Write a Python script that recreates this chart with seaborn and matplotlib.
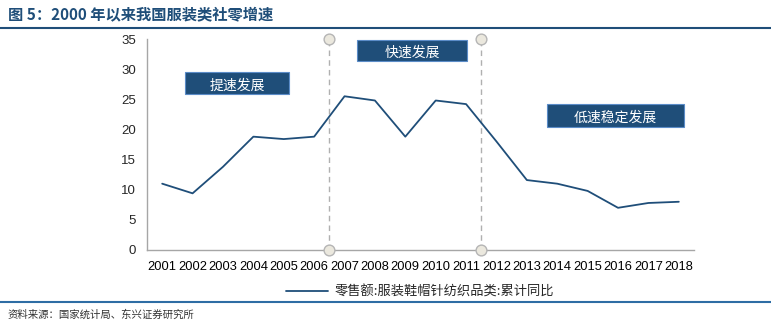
import matplotlib
matplotlib.use("Agg")
import matplotlib.pyplot as plt
import seaborn as sns
import pandas as pd
from matplotlib.patches import Rectangle
from matplotlib.lines import Line2D

years = [str(y) for y in range(2001, 2019)]
growth = [11.0, 9.4, 13.8, 18.8, 18.4, 18.8, 25.5, 24.8, 18.8, 24.8, 24.2, 18.0,
          11.6, 11.0, 9.8, 7.0, 7.8, 8.0]
yticks = [0, 5, 10, 15, 20, 25, 30, 35]
phase_labels = ["提速发展", "快速发展", "低速稳定发展"]
series_name = "零售额:服装鞋帽针纺织品类:累计同比"

sns.set_theme(style="white")
plt.rcParams['font.family'] = ['Noto Sans CJK SC', 'DejaVu Sans']

df = pd.DataFrame({"idx": range(len(years)), "year": years, "value": growth})

fig = plt.figure(figsize=(7.71, 3.21), dpi=100)
ax = fig.add_axes([147/771, 1-250/321, (694-147)/771, (250-39)/321])

navy = "#1F4E79"
sns.lineplot(data=df, x="idx", y="value", ax=ax, color=navy, lw=1.3,
             label=series_name, legend=False)

ax.set_xlim(-0.5, len(years)-0.5)
ax.set_ylim(0, 35)
ax.set_yticks(yticks)
ax.set_yticklabels([str(t) for t in yticks], fontsize=9.5, family=['Liberation Sans', 'DejaVu Sans'])
ax.set_xticks(range(len(years)))
ax.set_xticklabels(years, fontsize=9.3, family=['Liberation Sans', 'DejaVu Sans'])
ax.set_xticks([i - 0.5 for i in range(len(years)+1)], minor=True)
ax.tick_params(axis='x', which='major', length=0, pad=8, colors="#000000")
ax.tick_params(axis='x', which='minor', length=4, color="#A6A6A6", width=1)
ax.tick_params(axis='y', which='major', length=4, color="#A6A6A6", width=1, pad=4)
ax.set_xlabel("")
ax.set_ylabel("")
for s in ["top", "right"]:
    ax.spines[s].set_visible(False)
for s in ["left", "bottom"]:
    ax.spines[s].set_color("#A6A6A6")
    ax.spines[s].set_linewidth(1)

# dividers
for xv in [5.5, 10.5]:
    ax.plot([xv, xv], [0, 35], ls=(0, (4, 3)), color="#B0B0B0", lw=1, clip_on=False, zorder=1)
    ax.scatter([xv, xv], [0, 35], s=60, facecolor="#EBE8DE", edgecolor="#B5B5B5",
               linewidth=1, zorder=5, clip_on=False)

# phase boxes
boxes = [(0.75, 25.8, 3.42, 3.8), (6.4, 31.4, 3.64, 3.4), (12.67, 20.45, 4.5, 3.75)]
for (x0, y0, w, h), lab in zip(boxes, phase_labels):
    ax.add_patch(Rectangle((x0, y0), w, h, facecolor=navy, edgecolor="#5B8CC8",
                           lw=0.8, zorder=4, clip_on=False))
    ax.text(x0 + w/2, y0 + h*0.38, lab, color="white", fontsize=10,
            ha="center", va="center", zorder=6)

# legend
handle = Line2D([0], [0], color=navy, lw=1.3)
fig.legend([handle], [series_name], loc="center", bbox_to_anchor=(420/771, 1-292/321),
           frameon=False, fontsize=9.5, handlelength=3.2, handletextpad=0.5)

# title and frame lines
fig.text(8/771, 1-14/321, "图 5：2000 年以来我国服装类社零增速", fontsize=11,
         fontweight="bold", color=navy, ha="left", va="center")
fig.add_artist(Line2D([0, 1], [1-28/321, 1-28/321], color=navy, lw=1.5))
fig.add_artist(Line2D([0, 1], [1-302/321, 1-302/321], color="#2E6DA4", lw=1.5))
fig.text(8/771, 1-315/321, "资料来源：国家统计局、东兴证券研究所", fontsize=7.5,
         style="italic", color="#333333", ha="left", va="center")

fig.savefig("out.png", dpi=100)
